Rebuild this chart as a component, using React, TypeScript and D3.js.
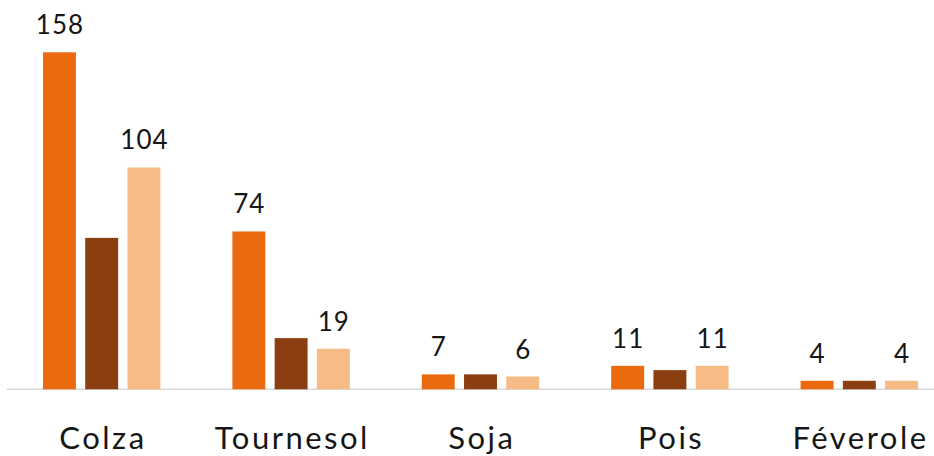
import React from 'react';
import * as d3 from 'd3';

const categories = ['Colza', 'Tournesol', 'Soja', 'Pois', 'Féverole'];
const seriesA = [158, 74, 7, 11, 4];
const seriesB = [71, 24, 7, 9, 4];
const seriesC = [104, 19, 6, 11, 4];

const width = 934;
const height = 456;

export default function App() {
  const baseline = 389.3;

  const x0 = d3.scaleBand()
    .domain(categories)
    .range([7, 954])
    .paddingInner(0.38)
    .paddingOuter(0.19);

  const x1 = d3.scaleBand()
    .domain(['a', 'b', 'c'])
    .range([0, x0.bandwidth()])
    .paddingInner(0.22);

  const y = d3.scaleLinear()
    .domain([0, 158])
    .range([baseline, 52.3]);

  const series = [
    { key: 'a', values: seriesA, color: '#EC6A0F', label: true },
    { key: 'b', values: seriesB, color: '#8B3F11', label: false },
    { key: 'c', values: seriesC, color: '#F7BC85', label: true },
  ];

  const font = 'Lato, "Open Sans", sans-serif';

  return (
    <svg width={width} height={height}
         style={{ position: 'absolute', left: 0, top: 0, display: 'block' }}>
      <rect width={width} height={height} fill="#ffffff" />
      <line x1={7} x2={width} y1={baseline} y2={baseline}
            stroke="#d9d9d9" strokeWidth={1.5} />
      {categories.map((cat, i) => (
        <g key={cat} transform={'translate(' + x0(cat) + ',0)'}>
          {series.map(s => {
            const v = s.values[i];
            const bx = x1(s.key) as number;
            return (
              <g key={s.key}>
                <rect x={bx} y={y(v)} width={x1.bandwidth()}
                      height={baseline - y(v)} fill={s.color} />
                {s.label && (
                  <text x={bx + x1.bandwidth() / 2 + 0.5} y={y(v) - 18}
                        textAnchor="middle" fontFamily={font}
                        fontSize={26} letterSpacing={1} fill="#161616">{v}</text>
                )}
              </g>
            );
          })}
          <text x={x0.bandwidth() / 2 + 1.25} y={449} textAnchor="middle"
                fontFamily={font} fontSize={31} letterSpacing={2.5}
                fill="#161616">{cat}</text>
        </g>
      ))}
    </svg>
  );
}
